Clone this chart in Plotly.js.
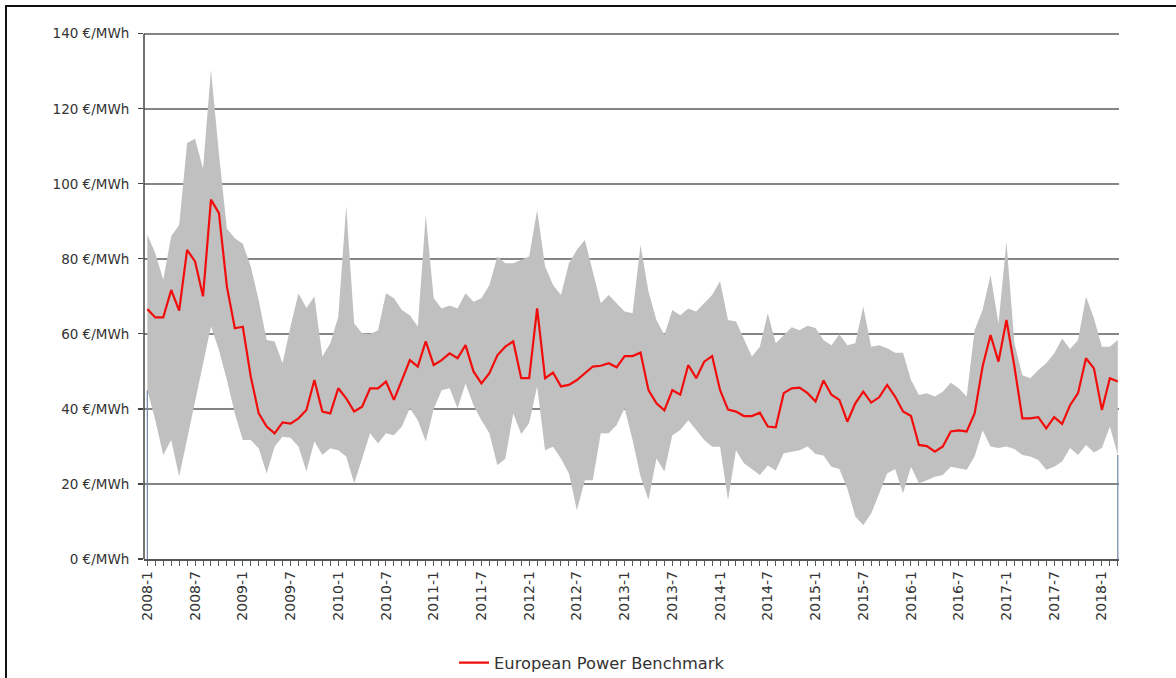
<!DOCTYPE html>
<html><head><meta charset="utf-8">
<script src="https://cdn.plot.ly/plotly-3.0.1.min.js"></script>
<style>
html,body{margin:0;padding:0;background:#fff;overflow:hidden;}
#chart{width:1176px;height:678px;}
#frame{position:absolute;left:5px;top:5px;width:1300px;height:800px;border-left:2px solid #111;border-top:2px solid #111;pointer-events:none;}
</style></head><body>
<div id="chart"></div><div id="frame"></div>
<script>
// Month categories 2008-1 ... 2018-3
const months = [];
for (let y = 2008; y <= 2018; y++) {
  for (let m = 1; m <= 12; m++) {
    if (y === 2018 && m > 3) break;
    months.push(y + '-' + m);
  }
}

// European Power Benchmark (€/MWh)
const benchmark = [
  66.6, 64.4, 64.4, 71.7, 66.2, 82.4, 79.3, 70.0, 95.8, 92.2, 72.6, 61.5,
  61.9, 48.6, 38.8, 35.3, 33.5, 36.4, 36.1, 37.5, 39.7, 47.7, 39.3, 38.8,
  45.5, 42.8, 39.3, 40.6, 45.5, 45.5, 47.3, 42.4, 47.7, 53.0, 51.3, 58.0,
  51.7, 53.0, 54.8, 53.5, 57.0, 50.0, 46.8, 49.5, 54.3, 56.6, 58.0, 48.2,
  48.2, 66.8, 48.2, 49.7, 46.0, 46.4, 47.7, 49.5, 51.3, 51.5, 52.2, 51.1,
  54.1, 54.1, 55.0, 45.0, 41.5, 39.6, 45.0, 43.8, 51.7, 48.2, 52.6, 54.1,
  45.0, 39.8, 39.3, 38.1, 38.1, 39.0, 35.3, 35.1, 44.2, 45.5, 45.7, 44.2,
  42.0, 47.6, 43.8, 42.4, 36.6, 41.5, 44.6, 41.7, 43.1, 46.4, 43.3, 39.3,
  38.1, 30.4, 30.1, 28.6, 30.0, 34.0, 34.3, 34.0, 38.8, 51.3, 59.7, 52.6,
  63.7, 51.3, 37.5, 37.5, 37.8, 34.8, 37.8, 36.0, 41.0, 44.2, 53.5, 50.8,
  39.7, 48.2, 47.3
];

// Highest national price (upper edge of grey range)
const maxPrice = [
  86.4, 81.5, 74.4, 86.0, 89.0, 110.9, 112.0, 104.0, 130.4, 108.0, 88.0, 85.5,
  84.0, 78.0, 69.0, 58.4, 58.0, 52.2, 62.0, 70.8, 66.9, 70.0, 54.0, 57.5,
  64.6, 94.0, 62.8, 60.2, 60.0, 61.0, 70.8, 69.5, 66.4, 65.0, 62.0, 91.7,
  69.5, 66.8, 67.6, 66.8, 70.8, 68.6, 69.5, 73.0, 80.6, 78.8, 78.8, 79.6,
  80.6, 93.0, 78.0, 73.0, 70.4, 78.8, 82.4, 85.0, 76.2, 68.2, 70.4, 68.2,
  66.0, 65.5, 83.7, 71.3, 63.7, 59.7, 66.4, 65.0, 66.8, 66.0, 68.2, 70.4,
  74.0, 63.7, 63.3, 58.4, 54.0, 56.6, 65.5, 57.5, 59.7, 61.8, 61.0, 62.2,
  61.6, 58.4, 57.0, 59.9, 57.0, 57.5, 67.3, 56.6, 57.0, 56.2, 55.0, 55.0,
  47.7, 43.7, 44.2, 43.3, 44.6, 47.0, 45.5, 43.3, 61.0, 66.4, 75.7, 62.8,
  84.6, 57.5, 49.0, 48.2, 50.4, 52.2, 54.8, 58.8, 56.0, 58.4, 70.0, 64.2,
  56.6, 56.6, 58.4
];

// Lowest national price (lower edge of grey range)
const minPrice = [
  45.0, 37.0, 27.7, 31.7, 22.0, 32.0, 42.0, 52.0, 62.0, 55.7, 47.7, 38.8,
  31.7, 31.7, 29.5, 22.8, 30.0, 32.6, 32.3, 30.0, 23.3, 31.4, 27.7, 29.5,
  29.0, 27.3, 20.2, 26.7, 33.5, 30.8, 33.5, 33.0, 35.3, 40.2, 37.0, 31.3,
  40.0, 45.0, 45.5, 40.2, 46.8, 41.0, 37.0, 33.5, 25.0, 26.7, 38.8, 33.3,
  36.2, 46.0, 29.0, 29.9, 26.8, 22.8, 13.0, 21.0, 21.0, 33.5, 33.5, 35.7,
  40.2, 31.7, 22.0, 15.7, 26.8, 23.3, 33.0, 34.4, 37.0, 34.4, 31.7, 29.9,
  29.9, 15.7, 29.0, 25.5, 24.0, 22.4, 24.9, 23.6, 28.2, 28.6, 29.0, 30.0,
  28.0, 27.6, 24.6, 24.0, 18.8, 11.3, 9.0, 12.1, 17.5, 22.8, 24.0, 17.5,
  24.6, 20.2, 21.0, 21.9, 22.4, 24.6, 24.2, 23.8, 27.3, 34.3, 30.0, 29.6,
  30.0, 29.3, 27.7, 27.3, 26.4, 23.8, 24.6, 26.0, 29.6, 27.7, 30.4, 28.4,
  29.6, 35.3, 27.7
];

const yTickValues = [0, 20, 40, 60, 80, 100, 120, 140];
const yTickLabels = ['0 €/MWh', '20 €/MWh', '40 €/MWh', '60 €/MWh', '80 €/MWh', '100 €/MWh', '120 €/MWh', '140 €/MWh'];
const seriesName = 'European Power Benchmark';

const xIdx = months.map((_, i) => i);
const majorIdx = xIdx.filter(i => i % 6 === 0);
const majorText = majorIdx.map(i => months[i]);
const last = months.length - 1;
const yTop = yTickValues[yTickValues.length - 1];

const traces = [
  { x: xIdx, y: minPrice, type: 'scatter', mode: 'lines', line: { width: 0, color: 'rgba(0,0,0,0)' },
    showlegend: false, hoverinfo: 'skip' },
  { x: xIdx, y: maxPrice, type: 'scatter', mode: 'lines', fill: 'tonexty', fillcolor: '#c0c0c0',
    line: { width: 0, color: '#c0c0c0' }, showlegend: false, hoverinfo: 'skip' },
  { x: [0, 0, null, last, last], y: [minPrice[0], 0, null, minPrice[last], 0], type: 'scatter', mode: 'lines',
    line: { width: 1.2, color: '#7088aa' }, showlegend: false, hoverinfo: 'skip' },
  { x: xIdx, y: benchmark, type: 'scatter', mode: 'lines', name: seriesName,
    line: { width: 2.2, color: '#f20d0d' } }
];

const layout = {
  width: 1176, height: 678,
  margin: { l: 144, r: 57, t: 30, b: 119, autoexpand: false },
  paper_bgcolor: '#ffffff', plot_bgcolor: '#ffffff',
  font: { family: 'DejaVu Sans, Verdana, sans-serif', color: '#333333', size: 13 },
  showlegend: true,
  legend: { orientation: 'h', x: 0.318, xanchor: 'left', xref: 'paper',
    yref: 'container', y: 0.022, yanchor: 'middle',
    font: { size: 16.3, color: '#333333' }, bgcolor: 'rgba(0,0,0,0)' },
  xaxis: {
    automargin: false,
    range: [-0.42, 122.15], type: 'linear',
    tickmode: 'array', tickvals: majorIdx, ticktext: majorText, tickangle: -90,
    ticks: 'outside', ticklen: 5, tickwidth: 1, tickcolor: '#555555',
    minor: { dtick: 1, tick0: 0, ticks: 'outside', ticklen: 5, tickwidth: 1, tickcolor: '#555555', showgrid: false },
    showgrid: false, zeroline: false,
    showline: true, linecolor: '#555555', linewidth: 1.5,
    tickfont: { size: 14, color: '#333333' }
  },
  yaxis: {
    automargin: false,
    range: [0, 141], tickmode: 'array', tickvals: yTickValues, ticktext: yTickLabels,
    ticks: 'outside', ticklen: 5, tickwidth: 1.2, tickcolor: '#444444',
    showgrid: true, gridcolor: '#858585', gridwidth: 1.7, zeroline: false,
    showline: false,
    tickfont: { size: 13.5, color: '#333333' }, ticklabelstandoff: 6
  },
  shapes: [
    { type: 'line', xref: 'paper', yref: 'y', x0: 0, x1: 0, y0: 0, y1: yTop,
      line: { color: '#444444', width: 1.5 }, layer: 'above' }
  ],
  hovermode: false
};

Plotly.newPlot('chart', traces, layout, { displayModeBar: false, staticPlot: true });
</script>
</body></html>
